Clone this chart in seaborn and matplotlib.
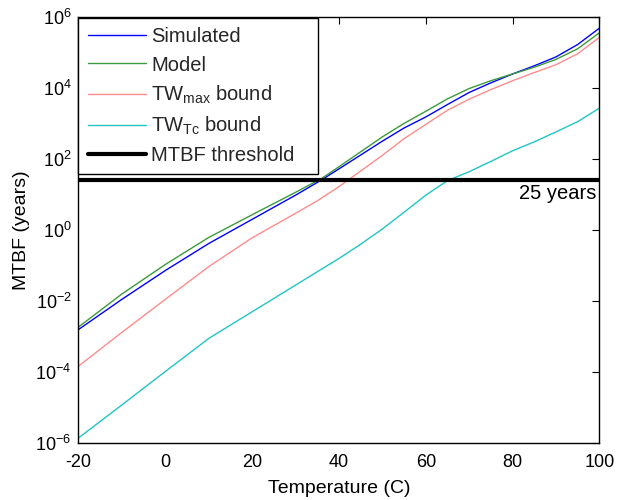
import numpy as np
import pandas as pd
import matplotlib
matplotlib.use("Agg")
import matplotlib.pyplot as plt
import seaborn as sns
from matplotlib.ticker import FixedLocator, NullLocator
from matplotlib.lines import Line2D

# ---- data (log10 of MTBF in years) ----
temp_sim = [-20, -10, 0, 10, 20, 30, 36, 40, 45, 50, 55, 60, 65, 70, 75, 80, 85, 90, 95, 100]
log_sim = [-2.80, -1.95, -1.14, -0.38, 0.30, 0.98, 1.41, 1.72, 2.11, 2.50, 2.87, 3.18, 3.53, 3.87, 4.14, 4.39, 4.62, 4.87, 5.22, 5.68]

temp_model = [-20, -10, 0, 10, 20, 30, 36, 40, 45, 50, 55, 60, 65, 70, 75, 80, 85, 90, 95, 100]
log_model = [-2.73, -1.80, -0.97, -0.21, 0.43, 1.06, 1.45, 1.78, 2.20, 2.62, 3.00, 3.34, 3.69, 3.98, 4.20, 4.39, 4.58, 4.80, 5.10, 5.55]

temp_twmax = [-20, -10, 0, 10, 20, 30, 35, 40, 45, 50, 55, 60, 65, 70, 75, 80, 85, 90, 95, 100]
log_twmax = [-3.83, -2.88, -1.95, -1.03, -0.22, 0.47, 0.82, 1.22, 1.66, 2.10, 2.57, 2.97, 3.37, 3.68, 3.95, 4.20, 4.43, 4.65, 4.96, 5.42]

temp_twtc = [-20, -10, 0, 10, 20, 30, 40, 45, 50, 55, 60, 65, 70, 75, 80, 85, 90, 95, 100]
log_twtc = [-5.85, -4.92, -3.98, -3.05, -2.30, -1.55, -0.80, -0.40, 0.03, 0.50, 0.98, 1.39, 1.64, 1.93, 2.23, 2.48, 2.76, 3.05, 3.43]

threshold_years = 25
series_names = ["Simulated", "Model", r"TW$_{max}$ bound", r"TW$_{Tc}$ bound"]
series_colors = ["#0000ff", "#3c9a3c", "#ff8c8c", "#22c4c4"]

x_ticks = [-20, 0, 20, 40, 60, 80, 100]
y_tick_exps = [-6, -4, -2, 0, 2, 4, 6]

# ---- build long table ----
frames = []
for name, t, lv in zip(series_names,
                       [temp_sim, temp_model, temp_twmax, temp_twtc],
                       [log_sim, log_model, log_twmax, log_twtc]):
    frames.append(pd.DataFrame({"Temperature": t,
                                "MTBF": np.power(10.0, np.array(lv)),
                                "series": name}))
df = pd.concat(frames, ignore_index=True)

sns.set_theme(style="white")
plt.rcParams["font.family"] = ["Liberation Sans", "DejaVu Sans"]
plt.rcParams["mathtext.fontset"] = "custom"
plt.rcParams["mathtext.rm"] = "Liberation Sans"
plt.rcParams["mathtext.it"] = "Liberation Sans"
plt.rcParams["mathtext.default"] = "regular"

fig = plt.figure(figsize=(6.36, 5.0), dpi=100)
ax = fig.add_axes([0.1234, 0.1134, 0.9426 - 0.1234, 0.9666 - 0.1134])

sns.lineplot(data=df, x="Temperature", y="MTBF", hue="series",
             hue_order=series_names, palette=series_colors,
             linewidth=1.0, ax=ax, legend=False, sort=True,
             estimator=None)
ax.axhline(threshold_years, color="black", linewidth=3.0)

ax.set_yscale("log")
ax.set_xlim(-20, 100)
ax.set_ylim(1e-6, 1e6)
ax.xaxis.set_major_locator(FixedLocator(x_ticks))
ax.yaxis.set_major_locator(FixedLocator([10.0 ** e for e in y_tick_exps]))
ax.yaxis.set_minor_locator(NullLocator())
ax.set_yticklabels([r"$10^{%d}$" % e for e in y_tick_exps])
ax.set_xticklabels([str(v) for v in x_ticks])

ax.tick_params(axis="both", which="major", direction="in", length=5,
               width=0.8, top=True, right=True, labelsize=13,
               color="black", labelcolor="black")
ax.tick_params(axis="x", pad=8)
ax.tick_params(axis="y", pad=5)
for s in ax.spines.values():
    s.set_visible(True)
    s.set_color("black")
    s.set_linewidth(1.0)

ax.set_xlabel("Temperature (C)", fontsize=14, color="black", labelpad=6)
ax.set_ylabel("MTBF (years)", fontsize=14, color="black", labelpad=4)

ax.text(99.3, threshold_years / 2.4, "25 years", ha="right", va="center",
        fontsize=14.5, color="black")

handles = [Line2D([], [], color=c, lw=1.0) for c in series_colors]
handles.append(Line2D([], [], color="black", lw=3.0))
labels = series_names + ["MTBF threshold"]
leg = ax.legend(handles, labels, loc="upper left",
                bbox_to_anchor=(0.0, 0.5, 0.46, 0.496), mode="expand",
                borderaxespad=0.0, frameon=True, fancybox=False,
                edgecolor="black", framealpha=1.0, fontsize=14.5,
                handlelength=2.9, handletextpad=0.25, labelspacing=0.45,
                borderpad=0.45)
leg.get_frame().set_linewidth(1.0)

fig.savefig("out.png", dpi=100)
